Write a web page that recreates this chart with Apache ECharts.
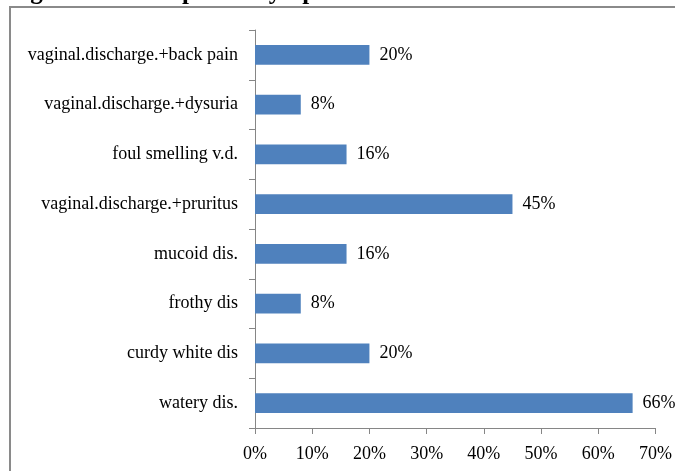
<!DOCTYPE html>
<html>
<head>
<meta charset="utf-8">
<script src="https://cdn.jsdelivr.net/npm/echarts@6/dist/echarts.min.js"></script>
<style>
html,body{margin:0;padding:0;background:#fff;}
#chart{width:675px;height:471px;}
</style>
</head>
<body>
<div id="chart"></div>
<script>
var titleText = 'Figure 1: Self-reported symptoms';
var categories = ['watery dis.', 'curdy white dis', 'frothy dis', 'mucoid dis.', 'vaginal.discharge.+pruritus', 'foul smelling v.d.', 'vaginal.discharge.+dysuria', 'vaginal.discharge.+back pain'];
var values = [66, 20, 8, 16, 45, 16, 8, 20];
var xTicks = [0, 10, 20, 30, 40, 50, 60, 70];

var chart = echarts.init(document.getElementById('chart'), null, {renderer: 'canvas'});
var font = '"Liberation Serif", "Times New Roman", serif';
chart.setOption({
  animation: false,
  backgroundColor: '#fff',
  graphic: [
    {type: 'rect', shape: {x: 10, y: 7, width: 700, height: 500}, style: {fill: 'none', stroke: '#8a8a8a', lineWidth: 2}, z: -1},
    {type: 'text', x: 8, y: 5, style: {text: titleText, font: 'bold 25px ' + font, fill: '#000', textVerticalAlign: 'bottom', verticalAlign: 'bottom'}}
  ],
  grid: {left: 255, top: 30, right: 19, bottom: 43, containLabel: false},
  xAxis: {
    type: 'value', min: xTicks[0], max: xTicks[xTicks.length - 1], interval: 10,
    axisLine: {show: true, lineStyle: {color: '#868686', width: 1}},
    axisTick: {show: true, length: 6, lineStyle: {color: '#868686'}},
    splitLine: {show: false},
    axisLabel: {formatter: '{value}%', color: '#000', fontFamily: font, fontSize: 18, margin: 17}
  },
  yAxis: {
    type: 'category', data: categories,
    axisLine: {show: true, lineStyle: {color: '#868686', width: 1}},
    axisTick: {show: true, length: 6, lineStyle: {color: '#868686'}},
    axisLabel: {color: '#000', fontFamily: font, fontSize: 18, margin: 17}
  },
  series: [{
    type: 'bar', data: values, barCategoryGap: '60%',
    itemStyle: {color: '#4F81BD'},
    label: {show: true, position: 'right', distance: 10, formatter: '{c}%', color: '#000', fontFamily: font, fontSize: 18}
  }]
});
</script>
</body>
</html>
